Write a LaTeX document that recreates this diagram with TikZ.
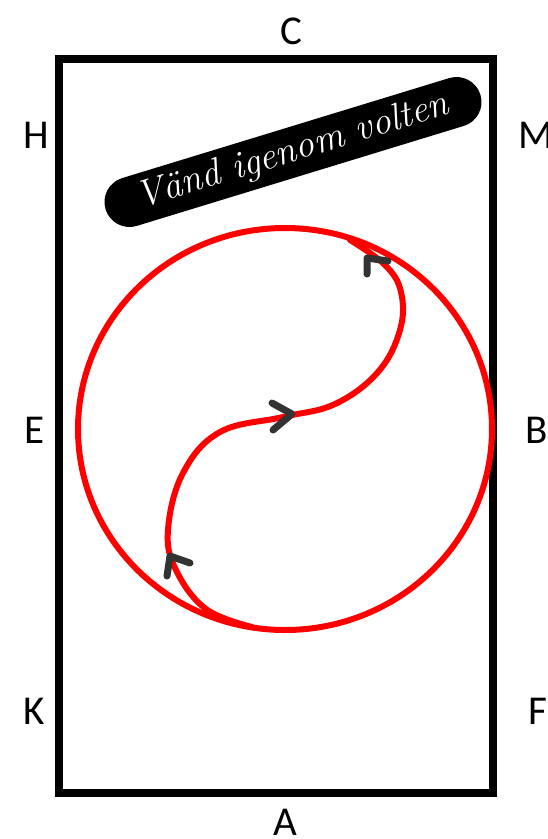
\documentclass[tikz,border=0pt]{standalone}
\usepackage{fontspec}
\setmainfont{Carlito}
\begin{document}
\begin{tikzpicture}[x=1pt,y=-1pt,
  lbl/.style={font=\fontsize{41}{41}\selectfont, text=black, inner sep=0pt},
  track/.style={draw=red, line width=6pt, line cap=round},
  chev/.style={draw=black!80, line width=7pt, line cap=round, line join=round},
  pill/.style={fill=black, rounded corners=25pt, minimum width=392pt, minimum height=50pt, text=white, inner sep=0pt, font=\fontsize{38}{38}\selectfont\rmfamily}]
\useasboundingbox (0,0) rectangle (547,839);
\fill[white] (0,0) rectangle (547,839);
% arena
\draw[line width=8pt] (59,59) rectangle (493,793);
% letters
\node[lbl] (C) at (291,31) {C};
\node[lbl] (H) at (36,135) {H};
\node[lbl] (M) at (536,135) {M};
\node[lbl] (E) at (35,430) {E};
\node[lbl] (B) at (537,430) {B};
\node[lbl] (K) at (34,711) {K};
\node[lbl] (F) at (538,711) {F};
\node[lbl] (A) at (285,822) {A};
% label
\node[pill, rotate=17] (lab) at (293,152) {\fontspec{Latin Modern Roman}\itshape Vänd igenom volten};
% circle
\draw[track] (285,429) ellipse [x radius=207pt, y radius=201pt];
% S-curve
\draw[track] plot[smooth, tension=0.65] coordinates {(252,627) (206,609) (176,570) (168,530) (183,473) (220,432) (283,417) (335,404) (378,372) (400,330) (401,292) (385,265) (350,240)};
% arrows
\draw[chev] (272,403) -- (292,414) -- (273,430);
\draw[chev] (367,274) -- (367,258) -- (388,261);
\draw[chev] (167,576) -- (170,556) -- (190,563);
\end{tikzpicture}
\end{document}
